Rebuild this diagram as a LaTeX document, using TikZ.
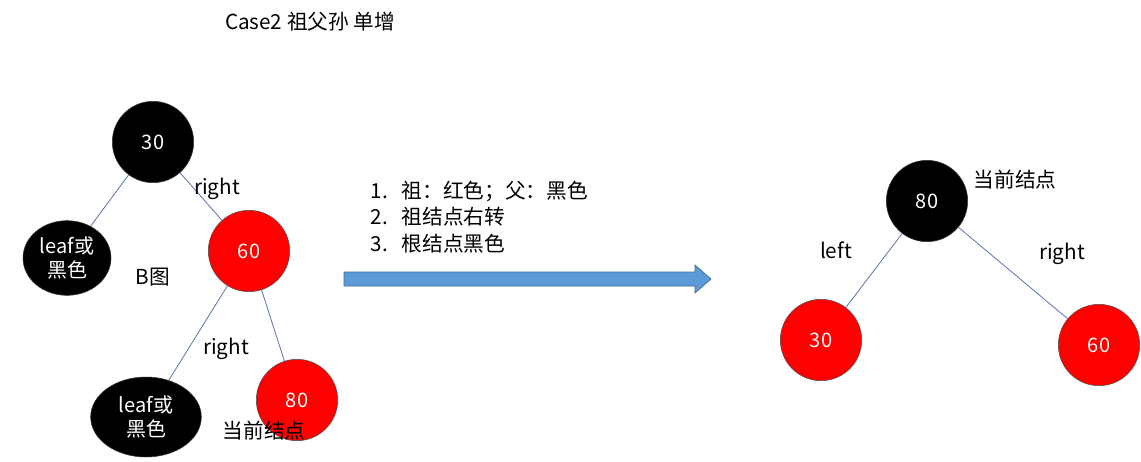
\documentclass[tikz,border=0pt]{standalone}
\usepackage{fontspec}
\setmainfont{Noto Sans CJK SC}
\usetikzlibrary{shapes.geometric}
\begin{document}
\begin{tikzpicture}[x=0.75pt,y=-0.75pt,
  blk/.style={circle,fill=black,draw=black!80,minimum size=61pt,inner sep=0,text=white,font=\fontsize{15}{17}\selectfont},
  red/.style={circle,fill=red,draw=black!70,minimum size=61pt,inner sep=0,text=white,font=\fontsize{15}{17}\selectfont},
  leaf/.style={ellipse,fill=black,draw=black!80,inner sep=0,text=white,align=center,font=\fontsize{15}{18}\selectfont},
  edge/.style={draw=cyan!40!blue!60!gray,line width=0.6pt},
  lbl/.style={font=\fontsize{15.5}{17}\selectfont}]
\useasboundingbox (0,0) rectangle (1141,461);
\fill[white] (0,0) rectangle (1141,461);
\definecolor{arrblue}{HTML}{5B9BD5}
\node[lbl] (title) at (310,22) {Case2 祖父孙 单增};
\node[blk] (a30) at (153,142) {30};
\node[leaf,minimum width=66pt,minimum height=56pt] (l1) at (67,258) {leaf或\\黑色};
\node[red] (a60) at (249,251) {60};
\node[leaf,minimum width=83pt,minimum height=60pt] (l2) at (146,417) {leaf或\\黑色};
\node[red] (a80) at (297,400) {80};
\draw[edge] (a30) -- (l1);
\draw[edge] (a30) -- (a60);
\draw[edge] (a60) -- (l2);
\draw[edge] (a60) -- (a80);
\node[lbl] (r1) at (217,189) {right};
\node[lbl] (bt) at (153,277) {B图};
\node[lbl] (r2) at (226,349) {right};
\node[lbl] (cur1) at (264,431) {当前结点};
\node[lbl,align=left,anchor=west] (steps) at (366,217) {1.\ \ \ 祖：红色；父：黑色\\[3pt]2.\ \ \ 祖结点右转\\[3pt]3.\ \ \ 根结点黑色};
\path[fill=arrblue,draw=arrblue!70!black,line width=0.5pt] (344,272) -- (695,272) -- (695,265) -- (711,279) -- (695,293) -- (695,286) -- (344,286) -- cycle;
\node[blk] (b80) at (927,201) {80};
\node[red] (b30) at (821,340) {30};
\node[red] (b60) at (1099,345) {60};
\draw[edge] (b80) -- (b30);
\draw[edge] (b80) -- (b60);
\node[lbl] (cur2) at (1015,180) {当前结点};
\node[lbl] (lf) at (836,250) {left};
\node[lbl] (rt) at (1062,254) {right};
\end{tikzpicture}
\end{document}
